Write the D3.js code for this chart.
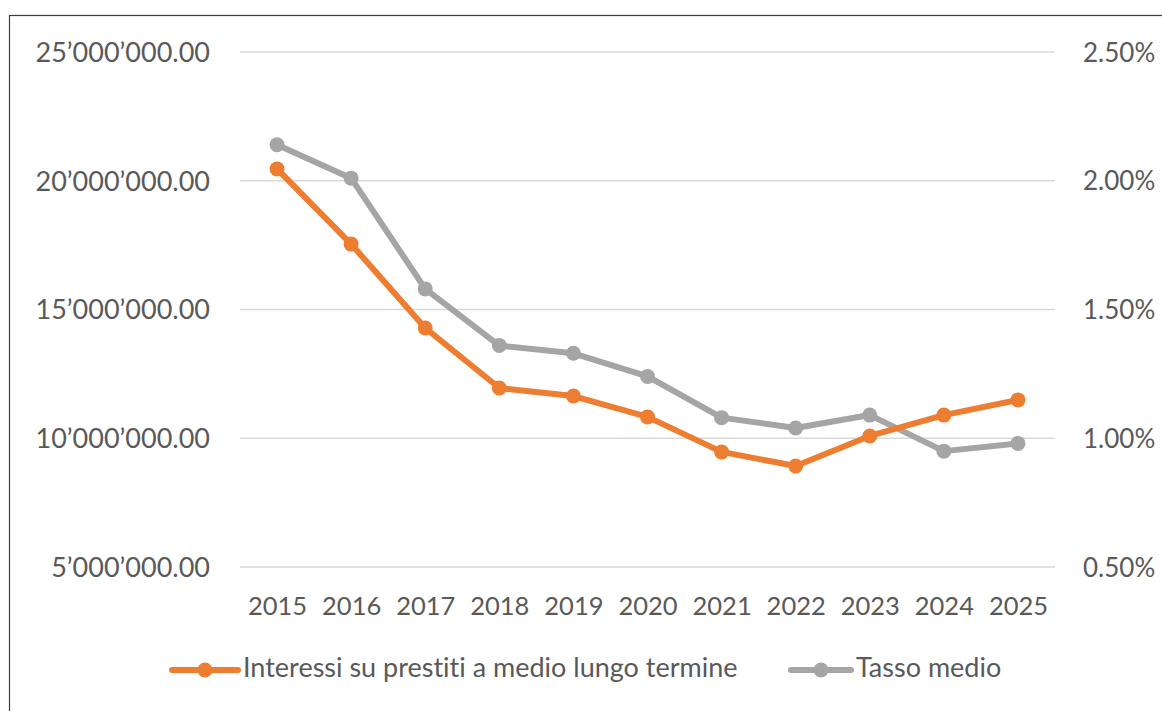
<!DOCTYPE html>
<html><head><meta charset="utf-8">
<script src="https://cdn.jsdelivr.net/npm/d3@7"></script>
<style>
html,body{margin:0;padding:0;background:#fff;}
svg{display:block;font-family:Lato, "Open Sans", sans-serif;font-variant-ligatures:none;}
</style></head>
<body>
<svg id="chart" width="1162" height="711"></svg>
<script>
const years = ["2015","2016","2017","2018","2019","2020","2021","2022","2023","2024","2025"];
const interessi = [20460000,17540000,14280000,11950000,11640000,10830000,9470000,8920000,10090000,10900000,11490000];
const tasso = [0.0214,0.0201,0.0158,0.0136,0.0133,0.0124,0.0108,0.0104,0.0109,0.0095,0.0098];
const leftTicks = [5000000,10000000,15000000,20000000,25000000];
const rightTicks = [0.005,0.01,0.015,0.02,0.025];
const seriesNames = ["Interessi su prestiti a medio lungo termine","Tasso medio"];
const colors = ["#ED7D31","#A5A5A5"];

const svg = d3.select("#chart");
const W=1162,H=711;
const m={left:240,right:1055,top:52,bottom:567};
const textColor="#595959";

// frame
svg.append("rect").attr("x",9.5).attr("y",15.5).attr("width",W+10).attr("height",H+10)
  .attr("fill","none").attr("stroke","#3c3c3c").attr("stroke-width",1.2);

const x = d3.scalePoint().domain(years).range([m.left,m.right]).padding(0.5);
const yL = d3.scaleLinear().domain([5000000,25000000]).range([m.bottom,m.top]);
const yR = d3.scaleLinear().domain([0.005,0.025]).range([m.bottom,m.top]);

const loc = d3.formatLocale({decimal:".",thousands:"\u2019",grouping:[3],currency:["",""]});
const fmtL = loc.format(",.2f");
const fmtR = d3.format(".2%");

// gridlines
svg.append("g").selectAll("line").data(leftTicks).join("line")
  .attr("x1",m.left).attr("x2",m.right)
  .attr("y1",d=>yL(d)).attr("y2",d=>yL(d))
  .attr("stroke","#d9d9d9").attr("stroke-width",1.5);

function styleText(sel, size){
  sel.attr("fill",textColor).style("font-size",size+"px").style("font-family","Lato");
}

// left axis
const axL = svg.append("g").attr("transform",`translate(${m.left-30},0)`)
  .call(d3.axisLeft(yL).tickValues(leftTicks).tickFormat(fmtL).tickSize(0).tickPadding(0));
axL.select(".domain").remove();
styleText(axL.selectAll("text").attr("dy","0.35em"), 27);

// right axis
const axR = svg.append("g").attr("transform",`translate(${m.right+28},0)`)
  .call(d3.axisRight(yR).tickValues(rightTicks).tickFormat(fmtR).tickSize(0).tickPadding(0));
axR.select(".domain").remove();
styleText(axR.selectAll("text").attr("dy","0.35em"), 26);

// x axis
const axX = svg.append("g").attr("transform",`translate(0,${m.bottom+48})`)
  .call(d3.axisBottom(x).tickSize(0).tickPadding(0));
axX.select(".domain").remove();
styleText(axX.selectAll("text").attr("dy","0"), 25.5);

function drawSeries(vals, yScale, color){
  const line = d3.line().x((d,i)=>x(years[i])).y(d=>yScale(d));
  svg.append("path").datum(vals).attr("d",line).attr("fill","none")
    .attr("stroke",color).attr("stroke-width",6).attr("stroke-linejoin","round").attr("stroke-linecap","round");
  svg.append("g").selectAll("circle").data(vals).join("circle")
    .attr("cx",(d,i)=>x(years[i])).attr("cy",d=>yScale(d)).attr("r",7.5).attr("fill",color);
}
drawSeries(tasso, yR, colors[1]);
drawSeries(interessi, yL, colors[0]);

// legend
const legendItems = [
  {name:seriesNames[0], color:colors[0], x1:172, x2:238, tx:243},
  {name:seriesNames[1], color:colors[1], x1:791, x2:851, tx:856}
];
const ly = 670;
const lg = svg.append("g");
legendItems.forEach(it=>{
  lg.append("line").attr("x1",it.x1).attr("x2",it.x2).attr("y1",ly).attr("y2",ly)
    .attr("stroke",it.color).attr("stroke-width",6).attr("stroke-linecap","round");
  lg.append("circle").attr("cx",(it.x1+it.x2)/2).attr("cy",ly).attr("r",7.5).attr("fill",it.color);
  styleText(lg.append("text").attr("x",it.tx).attr("y",ly+7).text(it.name), 27);
});
</script>
</body></html>
